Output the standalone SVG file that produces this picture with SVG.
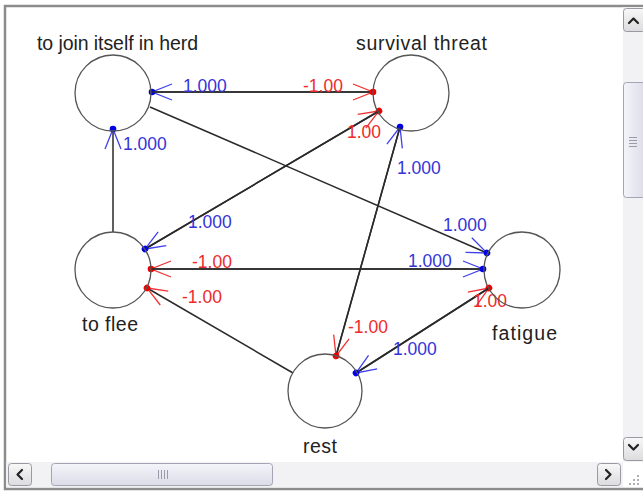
<svg xmlns="http://www.w3.org/2000/svg" width="643" height="492" viewBox="0 0 643 492">
<defs>
<style>
.node circle{fill:none;stroke:#555;stroke-width:1.3}
.nl{font-family:"Liberation Sans",Arial,sans-serif;font-size:19.5px;fill:#222}
.w{font-family:"Liberation Sans",Arial,sans-serif;font-size:17.5px}
.wb{fill:#3434d8}
.wr{fill:#ee2a2a}
.edge line{stroke:#2a2a2a;stroke-width:1.5}
.eb{marker-end:url(#ab)}
.er{marker-end:url(#ar)}
.btn{fill:url(#gb);stroke:#9a9aa2;stroke-width:1}
.thumb{fill:url(#gt);stroke:#a4a4b4;stroke-width:1}
.chev{fill:none;stroke:#222;stroke-width:2.2;stroke-linecap:round;stroke-linejoin:round}
.grip{stroke:#9a9aa8;stroke-width:1}
</style>
<linearGradient id="gb" x1="0" y1="0" x2="0" y2="1">
<stop offset="0" stop-color="#f8f8f8"/><stop offset="1" stop-color="#dcdcdf"/>
</linearGradient>
<linearGradient id="gt" x1="0" y1="0" x2="1" y2="0">
<stop offset="0" stop-color="#f4f4fa"/><stop offset="1" stop-color="#dcdce8"/>
</linearGradient>
<linearGradient id="gth" x1="0" y1="0" x2="0" y2="1">
<stop offset="0" stop-color="#f4f4fa"/><stop offset="1" stop-color="#dcdce8"/>
</linearGradient>
<marker id="ab" markerUnits="userSpaceOnUse" viewBox="-26 -13 30 26" markerWidth="30" markerHeight="26" refX="0" refY="0" orient="auto" overflow="visible">
<path d="M-20,-8 L0,0 L-20,8" fill="none" stroke="#4040ee" stroke-width="1.3"/>
<circle r="3.3" fill="#0000e6"/>
</marker>
<marker id="ar" markerUnits="userSpaceOnUse" viewBox="-26 -13 30 26" markerWidth="30" markerHeight="26" refX="0" refY="0" orient="auto" overflow="visible">
<path d="M-20,-8 L0,0 L-20,8" fill="none" stroke="#f23232" stroke-width="1.3"/>
<circle r="3.3" fill="#f00000"/>
</marker>
</defs>

<!-- window frame -->
<rect x="0" y="0" width="643" height="492" fill="#ffffff"/>
<rect x="5" y="6" width="660" height="483" fill="#ffffff" stroke="#8c8c8c" stroke-width="2.5"/>

<!-- vertical scrollbar -->
<g id="vscroll">
<rect x="623" y="7" width="22" height="455" fill="#f2f2f4"/>
<rect class="btn" x="623.5" y="8.5" width="22" height="23" rx="3"/>
<path class="chev" d="M629,23 L633.5,18.5 L638,23"/>
<rect class="thumb" x="623.5" y="82.5" width="22" height="115" rx="3"/>
<line class="grip" x1="629" y1="137.5" x2="637" y2="137.5"/>
<line class="grip" x1="629" y1="140.5" x2="637" y2="140.5"/>
<line class="grip" x1="629" y1="143.5" x2="637" y2="143.5"/>
<line class="grip" x1="629" y1="146.5" x2="637" y2="146.5"/>
<rect class="btn" x="623.5" y="437.5" width="22" height="23" rx="3"/>
<path class="chev" d="M629,445 L633.5,449.5 L638,445"/>
</g>

<!-- horizontal scrollbar -->
<g id="hscroll">
<rect x="6" y="462" width="617" height="25" fill="#f2f2f4"/>
<rect class="btn" x="8.5" y="463.5" width="23" height="22" rx="3"/>
<path class="chev" d="M22,470 L17.5,474.5 L22,479"/>
<rect x="51.5" y="463.5" width="221" height="22" rx="3" fill="url(#gth)" stroke="#a4a4b4"/>
<line class="grip" x1="158.5" y1="470" x2="158.5" y2="479"/>
<line class="grip" x1="161.5" y1="470" x2="161.5" y2="479"/>
<line class="grip" x1="164.5" y1="470" x2="164.5" y2="479"/>
<line class="grip" x1="167.5" y1="470" x2="167.5" y2="479"/>
<rect class="btn" x="597.5" y="463.5" width="23" height="22" rx="3"/>
<path class="chev" d="M606,470 L610.5,474.5 L606,479"/>
<g fill="#b0b0b8">
<rect x="637" y="475" width="2" height="2"/>
<rect x="633" y="479" width="2" height="2"/><rect x="637" y="479" width="2" height="2"/>
<rect x="629" y="483" width="2" height="2"/><rect x="633" y="483" width="2" height="2"/><rect x="637" y="483" width="2" height="2"/>
</g>
</g>

<!-- connectors -->
<g id="connectors" class="edge">
<line class="eb" x1="373" y1="92" x2="152" y2="92"/>
<line class="er" x1="152" y1="92" x2="373" y2="92"/>
<line class="eb" x1="113" y1="232" x2="113" y2="129"/>
<line class="eb" x1="150" y1="107" x2="487" y2="253"/>
<line class="er" x1="145" y1="249" x2="379" y2="111"/>
<line class="eb" x1="379" y1="111" x2="145" y2="249"/>
<line class="eb" x1="336" y1="356" x2="400" y2="127"/>
<line class="er" x1="400" y1="127" x2="336" y2="356"/>
<line class="er" x1="483" y1="269" x2="151" y2="269"/>
<line class="eb" x1="151" y1="269" x2="483" y2="269"/>
<line class="er" x1="293" y1="373" x2="147" y2="288"/>
<line class="er" x1="356" y1="373" x2="489" y2="288"/>
<line class="eb" x1="489" y1="288" x2="356" y2="373"/>
</g>

<!-- weight labels -->
<g id="weights" class="w">
<text class="wb" x="183" y="92">1.000</text>
<text class="wr" x="303" y="92">-1.00</text>
<text class="wb" x="123" y="150">1.000</text>
<text class="wr" x="347" y="138">1.00</text>
<text class="wb" x="397" y="174">1.000</text>
<text class="wb" x="188" y="228">1.000</text>
<text class="wr" x="192" y="268">-1.00</text>
<text class="wr" x="182" y="303">-1.00</text>
<text class="wb" x="443" y="231">1.000</text>
<text class="wb" x="408" y="267">1.000</text>
<text class="wr" x="473" y="307">1.00</text>
<text class="wr" x="348" y="333">-1.00</text>
<text class="wb" x="393" y="355">1.000</text>
</g>

<!-- nodes -->
<g id="herd" class="node">
<circle cx="113" cy="93" r="38"/>
<text class="nl" x="37" y="50" textLength="161">to join itself in herd</text>
</g>
<g id="threat" class="node">
<circle cx="411" cy="93" r="38"/>
<text class="nl" x="356" y="50" textLength="131">survival threat</text>
</g>
<g id="flee" class="node">
<circle cx="113" cy="270" r="38"/>
<text class="nl" x="82" y="331" textLength="56">to flee</text>
</g>
<g id="fatigue" class="node">
<circle cx="522" cy="270" r="38"/>
<text class="nl" x="492" y="340" textLength="65">fatigue</text>
</g>
<g id="rest" class="node">
<circle cx="325" cy="391" r="37"/>
<text class="nl" x="303" y="453" textLength="34">rest</text>
</g>
</svg>
